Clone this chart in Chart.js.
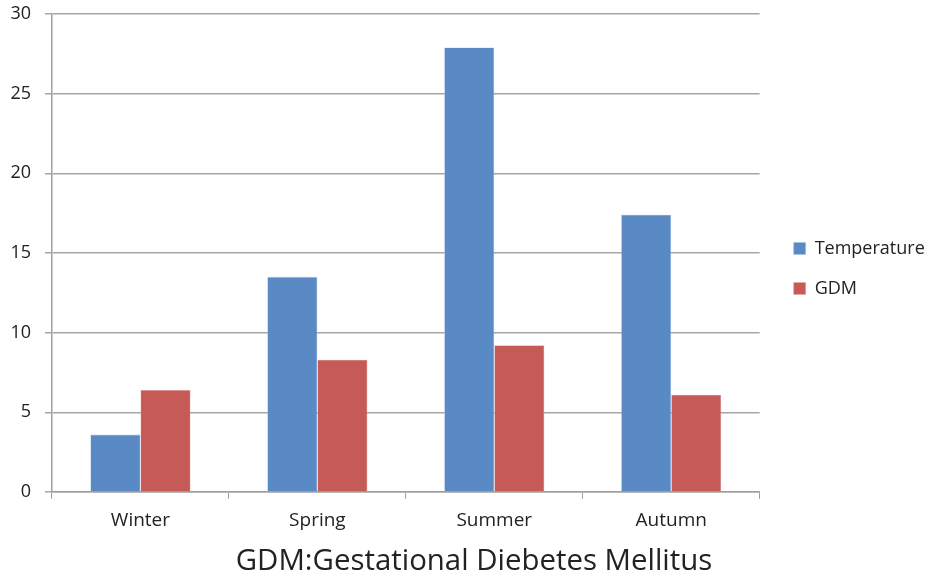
<!DOCTYPE html>
<html>
<head>
<meta charset="utf-8">
<script src="https://cdn.jsdelivr.net/npm/chart.js@4.4.0/dist/chart.umd.min.js"></script>
<style>
html,body{margin:0;padding:0;background:#fff;}
#wrap{width:929px;height:580px;}
</style>
</head>
<body>
<div id="wrap"><canvas id="c" width="929" height="580"></canvas></div>
<script>
const categories = ["Winter", "Spring", "Summer", "Autumn"];
const temperature = [3.6, 13.5, 27.9, 17.4];
const gdm = [6.4, 8.3, 9.2, 6.1];
const yTicks = [0, 5, 10, 15, 20, 25, 30];
const titleText = "GDM:Gestational Diebetes Mellitus";

Chart.defaults.font.family = "'Open Sans', 'DejaVu Sans', sans-serif";
Chart.defaults.color = "#222";

const shiftTitle = {
  id: 'shiftTitle',
  afterLayout(chart) {
    if (chart.titleBlock) { chart.titleBlock.left += 22; }
  }
};

new Chart(document.getElementById('c'), {
  type: 'bar',
  data: {
    labels: categories,
    datasets: [
      { label: 'Temperature', data: temperature, backgroundColor: '#5A8AC5', borderColor: '#A9C3E4', borderWidth: 0.6, yAxisID: 'y' },
      { label: 'GDM', data: gdm, backgroundColor: '#C55A57', borderColor: '#E2A9A7', borderWidth: 0.6, yAxisID: 'y' }
    ]
  },
  plugins: [shiftTitle],
  options: {
    responsive: false,
    animation: false,
    devicePixelRatio: 1,
    layout: { padding: { top: 14, left: 0, right: 3, bottom: 1 } },
    datasets: { bar: { categoryPercentage: 0.566, barPercentage: 1.0 } },
    plugins: {
      legend: {
        position: 'right',
        fullSize: false,
        title: { display: true, text: ' ', font: { size: 10 }, padding: { top: 0, bottom: 19 } },
        labels: {
          boxWidth: 12, boxHeight: 12, padding: 22,
          font: { size: 18 }, color: '#222'
        }
      },
      title: {
        display: true, position: 'bottom', text: titleText,
        font: { size: 29.4, weight: 'normal' }, color: '#222',
        padding: { top: 2, bottom: 0 }
      },
      tooltip: { enabled: false }
    },
    scales: {
      x: {
        grid: { drawOnChartArea: false, drawTicks: true, tickLength: 7, color: '#A0A0A0', offset: true },
        border: { color: '#A0A0A0', width: 1.5 },
        ticks: { font: { size: 19 }, color: '#222', padding: 10 }
      },
      y: {
        min: 0, max: 30,
        afterBuildTicks: (axis) => { axis.ticks = yTicks.map(v => ({ value: v })); },
        afterFit: (s) => { s.width = 52; s.paddingTop = 0; s.paddingBottom = 0; },
        grid: { color: '#A6A6A6', lineWidth: 1.5, tickLength: 7 },
        border: { color: '#A0A0A0', width: 1.5 },
        ticks: { font: { size: 18 }, color: '#222', padding: 14 }
      },
      gap: {
        position: 'right',
        display: true,
        afterFit: (s) => { s.width = 12; s.paddingTop = 0; s.paddingBottom = 0; },
        grid: { display: false },
        border: { display: false },
        ticks: { display: false }
      }
    }
  }
});
</script>
</body>
</html>
